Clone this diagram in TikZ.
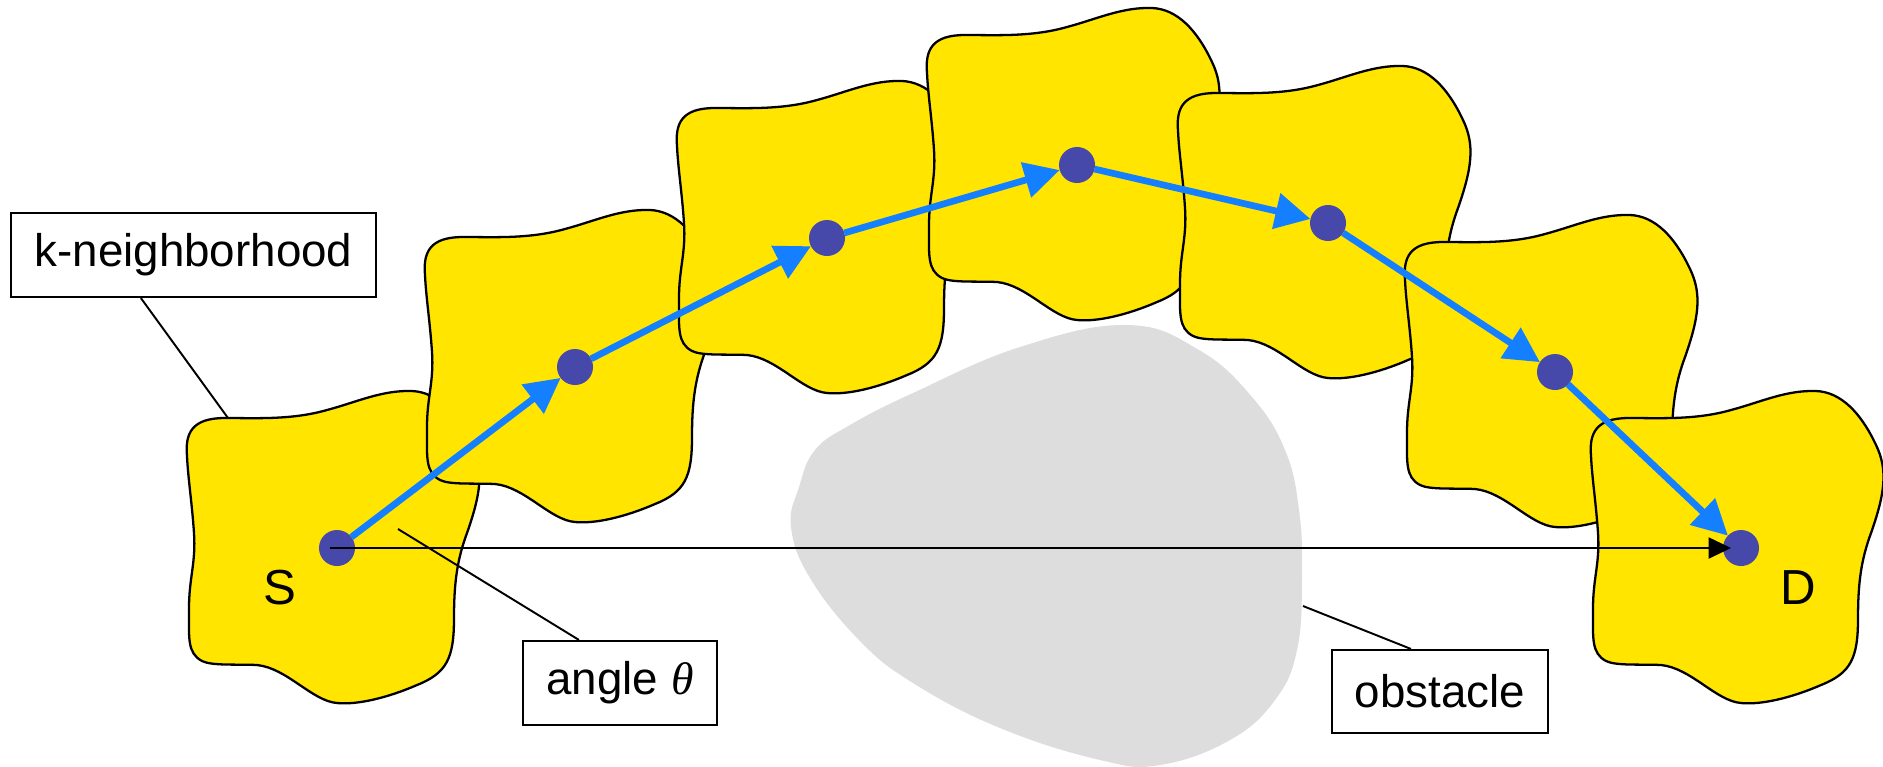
\documentclass[tikz,border=0pt]{standalone}
\usepackage{fontspec}
\setmainfont{Liberation Sans}
\newfontfamily\greekserif{Liberation Serif}
\usetikzlibrary{arrows.meta}

\definecolor{blobyellow}{RGB}{255,229,0}
\definecolor{pathblue}{RGB}{20,128,255}
\definecolor{dotblue}{RGB}{70,73,170}
\definecolor{obstaclegray}{RGB}{221,221,221}

\tikzset{
  blobstyle/.style={fill=blobyellow, draw=black, line width=0.65pt},
  % one k-neighbourhood region, drawn around its node position
  pics/blob/.style={code={
    \path[blobstyle]
      (-150,-92) .. controls (-152,-115) and (-145,-130) .. (-112,-130)
      .. controls (-80,-130) and (-45,-128) .. (-10,-138)
      .. controls (20,-146) and (45,-158) .. (75,-157)
      .. controls (100,-156) and (120,-135) .. (135,-103)
      .. controls (147,-78) and (144,-55) .. (130,-15)
      .. controls (120,12) and (117,35) .. (117,70)
      .. controls (117,110) and (110,125) .. (80,137)
      .. controls (50,150) and (20,157) .. (0,155)
      .. controls (-25,153) and (-50,120) .. (-80,117)
      .. controls (-100,116) and (-125,118) .. (-135,113)
      .. controls (-150,105) and (-148,90) .. (-148,60)
      .. controls (-148,30) and (-141,15) .. (-143,-15)
      .. controls (-145,-45) and (-149,-70) .. (-150,-92) -- cycle;
  }},
  dot/.style={circle, fill=dotblue, minimum size=0.36cm, inner sep=0pt, outer sep=0pt},
  hop/.style={pathblue, line width=1.9pt, -{Triangle[length=10pt,width=10pt]}},
  direct/.style={black, line width=0.6pt, -{Triangle[length=6.4pt,width=6pt]}},
  callout/.style={draw, line width=0.6pt, inner sep=0pt, fill=white,
                  font=\fontsize{13}{15.6}\selectfont},
  leader/.style={line width=0.55pt},
  endlabel/.style={font=\fontsize{14}{16.8}\selectfont, inner sep=0pt}
}

\begin{document}
\begin{tikzpicture}[x=0.01cm, y=-0.01cm]
\useasboundingbox (0,0) rectangle (1883,766);

% the obstacle
\fill[obstaclegray] plot[smooth cycle, tension=0.7] coordinates {
  (1127,325) (1199,350) (1252,397) (1285,450) (1299,510) (1302,577)
  (1297,650) (1275,700) (1230,740) (1160,765) (1100,760) (1000,728)
  (913,683) (859,640) (810,578) (791,527) (799,487) (815,450)
  (850,425) (913,393) (1020,347)};

% node positions along the route
\coordinate (cs) at (337,548);
\coordinate (c1) at (575,367);
\coordinate (c2) at (827,238);
\coordinate (c3) at (1077,165);
\coordinate (c4) at (1328,223);
\coordinate (c5) at (1555,372);
\coordinate (cd) at (1741,548);

% neighbourhoods, each one over the previous
\pic at (cs) {blob};
\pic at (c1) {blob};
\pic at (c2) {blob};
\pic at (c3) {blob};
\pic at (c4) {blob};
\pic at (c5) {blob};
\pic at (cd) {blob};

% nodes
\node[dot] (s)  at (cs) {};
\node[dot] (p1) at (c1) {};
\node[dot] (p2) at (c2) {};
\node[dot] (p3) at (c3) {};
\node[dot] (p4) at (c4) {};
\node[dot] (p5) at (c5) {};
\node[dot] (d)  at (cd) {};

% hop-by-hop route
\draw[hop] (s)  -- (p1);
\draw[hop] (p1) -- (p2);
\draw[hop] (p2) -- (p3);
\draw[hop] (p3) -- (p4);
\draw[hop] (p4) -- (p5);
\draw[hop] (p5) -- (d);

% straight line from source to destination
\draw[direct] ([xshift=-0.07cm]s.center) -- ([xshift=-0.1cm]d.center);

% end point labels
\node[endlabel] (slabel) at (280,588) {S};
\node[endlabel] (dlabel) at (1798,588) {D};

% callouts
\node[callout, minimum width=3.65cm, minimum height=0.84cm] (kbox) at (193.5,255) {k-neighborhood};
\node[callout, minimum width=1.94cm, minimum height=0.84cm] (abox) at (620,683) {angle {\greekserif\itshape θ}};
\node[callout, minimum width=2.16cm, minimum height=0.83cm] (obox) at (1440,691.5) {obstacle};

\coordinate (kend) at (228,418);
\coordinate (aend) at (398,529);
\coordinate (oend) at (1303,606);
\draw[leader] ([xshift=1.31cm]kbox.south west) -- (kend);
\draw[leader] ([xshift=0.57cm]abox.north west) -- (aend);
\draw[leader] ([xshift=0.8cm]obox.north west) -- (oend);
\end{tikzpicture}
\end{document}
